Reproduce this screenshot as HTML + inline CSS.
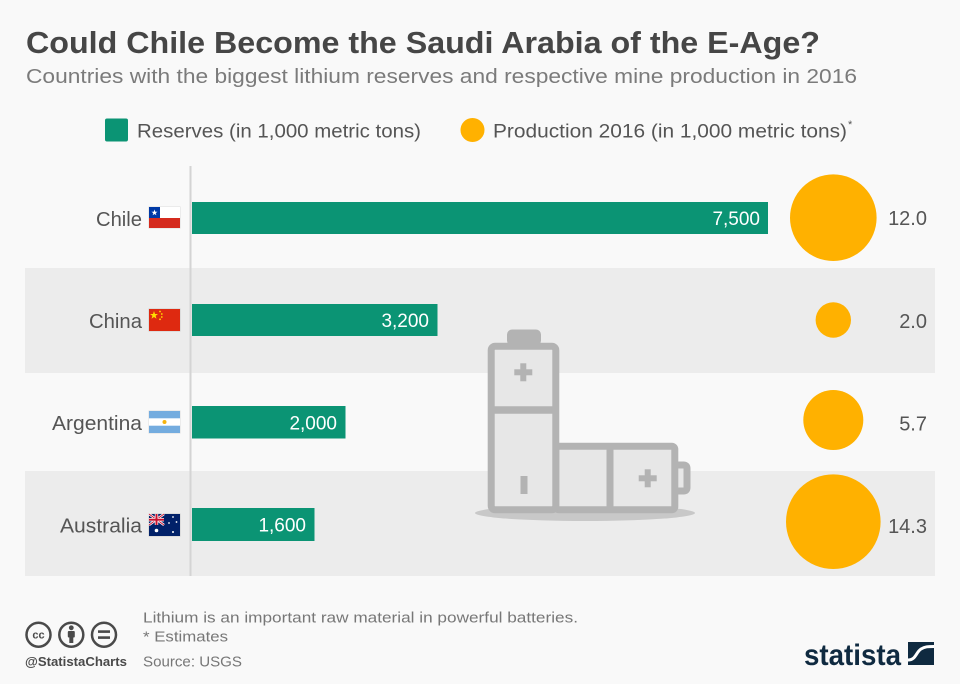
<!DOCTYPE html>
<html><head><meta charset="utf-8"><style>
html,body{margin:0;padding:0;background:#f9f9f9;}
svg{display:block;}
text{font-family:"Liberation Sans",sans-serif;}
</style></head><body>
<svg width="960" height="684" viewBox="0 0 960 684" xmlns="http://www.w3.org/2000/svg">
<rect x="0" y="0" width="960" height="684" fill="#f9f9f9"/>
<!-- title -->
<text x="26" y="53" font-size="31" font-weight="bold" fill="#464646" textLength="794" lengthAdjust="spacingAndGlyphs">Could Chile Become the Saudi Arabia of the E-Age?</text>
<text x="26" y="83" font-size="20" fill="#7b7b7b" textLength="831" lengthAdjust="spacingAndGlyphs">Countries with the biggest lithium reserves and respective mine production in 2016</text>
<!-- legend -->
<rect x="105" y="118.5" width="23" height="23" rx="2" fill="#0b9474"/>
<text x="137" y="137.5" font-size="19" fill="#555" textLength="284" lengthAdjust="spacingAndGlyphs">Reserves (in 1,000 metric tons)</text>
<circle cx="472.5" cy="130" r="12" fill="#ffb100"/>
<text x="493" y="137.5" font-size="19" fill="#555" textLength="354" lengthAdjust="spacingAndGlyphs">Production 2016 (in 1,000 metric tons)</text>
<text x="848" y="128" font-size="11" fill="#555">*</text>
<!-- bands -->
<rect x="25" y="268" width="910" height="105" fill="#ececec"/>
<rect x="25" y="471" width="910" height="105" fill="#ececec"/>
<!-- axis -->
<rect x="189.5" y="166" width="2" height="410" fill="#d4d4d4"/>
<!-- bars -->
<rect x="192" y="202" width="576" height="32" fill="#0b9474"/>
<rect x="192" y="304" width="245.5" height="32" fill="#0b9474"/>
<rect x="192" y="406" width="153.5" height="32.5" fill="#0b9474"/>
<rect x="192" y="508" width="122.5" height="33" fill="#0b9474"/>
<g font-size="19" fill="#ffffff" text-anchor="end">
<text x="760" y="225">7,500</text>
<text x="429" y="327">3,200</text>
<text x="337" y="429.5">2,000</text>
<text x="306" y="531.5">1,600</text>
</g>
<!-- country labels -->
<g font-size="20" fill="#555">
<text x="96" y="226" textLength="46" lengthAdjust="spacingAndGlyphs">Chile</text>
<text x="89" y="328" textLength="53" lengthAdjust="spacingAndGlyphs">China</text>
<text x="52" y="430" textLength="90" lengthAdjust="spacingAndGlyphs">Argentina</text>
<text x="60" y="532.5" textLength="82" lengthAdjust="spacingAndGlyphs">Australia</text>
</g>
<!-- flags -->
<g>
 <!-- Chile -->
 <rect x="148.5" y="206.5" width="32" height="22" fill="#ddd"/>
 <rect x="149" y="207" width="31" height="11" fill="#ffffff"/>
 <rect x="149" y="218" width="31" height="10" fill="#d52b1e"/>
 <rect x="149" y="207" width="11" height="11" fill="#0039a6"/>
 <polygon points="154.5,209.5 155.3,211.8 157.5,211.8 155.7,213.1 156.4,215.3 154.5,214 152.6,215.3 153.3,213.1 151.5,211.8 153.7,211.8" fill="#fff"/>
 <!-- China -->
 <rect x="148.5" y="308.5" width="32" height="23" fill="#ccc"/>
 <rect x="149" y="309" width="31" height="22" fill="#de2910"/>
 <polygon points="154,311 155,314 158,314 155.6,315.8 156.5,318.8 154,317 151.5,318.8 152.4,315.8 150,314 153,314" fill="#ffde00"/>
 <circle cx="160" cy="311.5" r="0.9" fill="#ffde00"/>
 <circle cx="161.8" cy="314" r="0.9" fill="#ffde00"/>
 <circle cx="161.8" cy="317" r="0.9" fill="#ffde00"/>
 <circle cx="160" cy="319.3" r="0.9" fill="#ffde00"/>
 <!-- Argentina -->
 <rect x="148.5" y="410.5" width="32" height="23" fill="#ddd"/>
 <rect x="149" y="411" width="31" height="22" fill="#ffffff"/>
 <rect x="149" y="411" width="31" height="7.3" fill="#74acdf"/>
 <rect x="149" y="425.7" width="31" height="7.3" fill="#74acdf"/>
 <circle cx="164.5" cy="422" r="2" fill="#f6b40e"/>
 <!-- Australia -->
 <rect x="148.5" y="513.5" width="32" height="23" fill="#ccc"/>
 <rect x="149" y="514" width="31" height="22" fill="#012169"/>
 <g>
  <line x1="149" y1="514" x2="164" y2="525" stroke="#fff" stroke-width="2.5"/>
  <line x1="164" y1="514" x2="149" y2="525" stroke="#fff" stroke-width="2.5"/>
  <line x1="149" y1="514" x2="164" y2="525" stroke="#c8102e" stroke-width="0.9"/>
  <line x1="164" y1="514" x2="149" y2="525" stroke="#c8102e" stroke-width="0.9"/>
  <rect x="149" y="518" width="15" height="3.4" fill="#fff"/>
  <rect x="154.8" y="514" width="3.4" height="11" fill="#fff"/>
  <rect x="149" y="518.7" width="15" height="2" fill="#c8102e"/>
  <rect x="155.5" y="514" width="2" height="11" fill="#c8102e"/>
 </g>
 <circle cx="156.5" cy="530.5" r="1.8" fill="#fff"/>
 <circle cx="173" cy="517" r="0.9" fill="#fff"/>
 <circle cx="169" cy="523" r="0.9" fill="#fff"/>
 <circle cx="176.5" cy="522" r="0.9" fill="#fff"/>
 <circle cx="173" cy="532" r="1" fill="#fff"/>
</g>
<!-- battery illustration -->
<g>
 <ellipse cx="585" cy="513" rx="110" ry="8" fill="#c8c8c8"/>
 <rect x="507" y="329.5" width="34" height="16" rx="5" fill="#b3b3b3"/>
 <path d="M678,465 H683.5 Q687,465 687,468.5 V487.5 Q687,491 683.5,491 H678" fill="#e7e7e7" stroke="#b3b3b3" stroke-width="7"/>
 <rect x="555.8" y="446.2" width="119" height="63.6" rx="3" fill="#e7e7e7" stroke="#b3b3b3" stroke-width="7"/>
 <rect x="491.2" y="346.2" width="64.6" height="163.6" rx="4" fill="#e7e7e7" stroke="#b3b3b3" stroke-width="7"/>
 <line x1="491" y1="410" x2="556" y2="410" stroke="#b3b3b3" stroke-width="7.5"/>
 <line x1="610" y1="446" x2="610" y2="510" stroke="#b3b3b3" stroke-width="7"/>
 <rect x="514.3" y="369.3" width="18" height="6" fill="#b3b3b3"/>
 <rect x="520.3" y="363.3" width="6" height="18" fill="#b3b3b3"/>
 <rect x="520.5" y="476" width="7" height="18" fill="#b3b3b3"/>
 <rect x="638.7" y="475.3" width="18" height="6" fill="#b3b3b3"/>
 <rect x="644.7" y="469.3" width="6" height="18" fill="#b3b3b3"/>
</g>
<!-- bubbles -->
<g fill="#ffb100">
 <circle cx="833.3" cy="217.7" r="43.3"/>
 <circle cx="833.3" cy="320" r="17.7"/>
 <circle cx="833.3" cy="420" r="30"/>
 <circle cx="833.3" cy="521.7" r="47.3"/>
</g>
<g font-size="20" fill="#555" text-anchor="end">
 <text x="927" y="225">12.0</text>
 <text x="927" y="328">2.0</text>
 <text x="927" y="430.5">5.7</text>
 <text x="927" y="533">14.3</text>
</g>
<!-- footer -->
<g stroke="#4a4a4a" stroke-width="2.5" fill="none">
 <circle cx="38.5" cy="634.7" r="12"/>
 <circle cx="71.3" cy="634.7" r="12"/>
 <circle cx="104" cy="634.7" r="12"/>
</g>
<text x="38.5" y="638.5" font-size="11" font-weight="bold" fill="#4a4a4a" text-anchor="middle">cc</text>
<circle cx="71.3" cy="627.8" r="2.4" fill="#4a4a4a"/>
<rect x="67.8" y="631" width="7" height="6.5" rx="1" fill="#4a4a4a"/>
<rect x="69.3" y="636" width="4" height="7" fill="#4a4a4a"/>
<rect x="98" y="630.3" width="12" height="2.6" fill="#4a4a4a"/>
<rect x="98" y="636.3" width="12" height="2.6" fill="#4a4a4a"/>
<text x="25" y="666" font-size="13" font-weight="bold" fill="#4a4a4a" textLength="102" lengthAdjust="spacingAndGlyphs">@StatistaCharts</text>
<g font-size="15" fill="#777">
 <text x="143" y="622.5" textLength="435" lengthAdjust="spacingAndGlyphs">Lithium is an important raw material in powerful batteries.</text>
 <text x="143" y="641.5" textLength="85" lengthAdjust="spacingAndGlyphs">* Estimates</text>
 <text x="143" y="666.5" textLength="99" lengthAdjust="spacingAndGlyphs">Source: USGS</text>
</g>
<!-- statista logo -->
<text x="804" y="665" font-size="30" font-weight="bold" fill="#0f2a40" textLength="97" lengthAdjust="spacingAndGlyphs">statista</text>
<rect x="908" y="642" width="26" height="23" fill="#0f2a40"/>
<path d="M908,660 C916,660 916,652 921,649 C925,646.5 928,646.5 934,646.5" stroke="#fff" stroke-width="3" fill="none"/>
</svg>
</body></html>
